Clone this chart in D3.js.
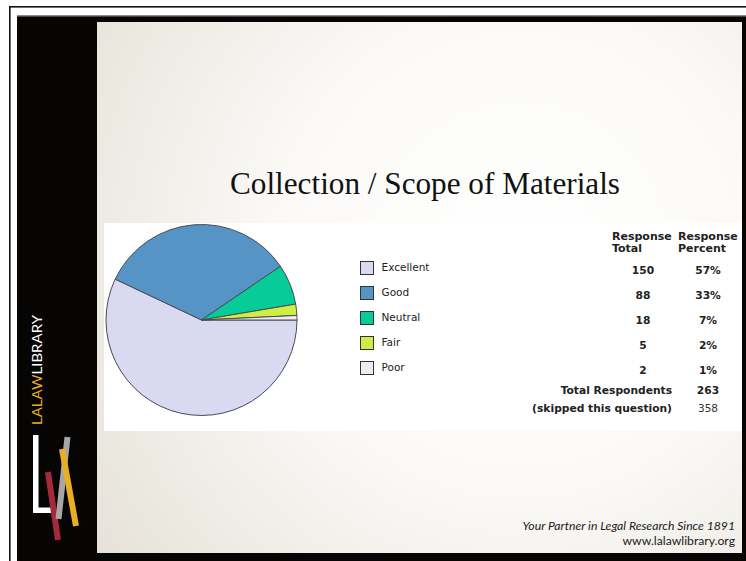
<!DOCTYPE html>
<html><head><meta charset="utf-8">
<script src="https://cdn.jsdelivr.net/npm/d3@7/dist/d3.min.js"></script>
<style>html,body{margin:0;padding:0;background:#fff;overflow:hidden}</style>
</head><body>
<svg id="c" width="746" height="561"></svg>
<script>
const categories = ["Excellent", "Good", "Neutral", "Fair", "Poor"];
const responseTotals = [150, 88, 18, 5, 2];
const responsePercents = ["57%", "33%", "7%", "2%", "1%"];
const sliceColors = ["#d9d9f1", "#5794c6", "#05cc98", "#cfee45", "#ececf2"];
const totalRespondents = 263;
const skipped = 358;
const titleText = "Collection / Scope of Materials";

const svg = d3.select("#c");
const defs = svg.append("defs");
const rg = defs.append("radialGradient").attr("id","bg")
  .attr("gradientUnits","userSpaceOnUse").attr("cx",520).attr("cy",250).attr("r",520);
rg.append("stop").attr("offset","0").attr("stop-color","#ffffff");
rg.append("stop").attr("offset","0.45").attr("stop-color","#fbfaf8");
rg.append("stop").attr("offset","1").attr("stop-color","#e6e2d8");

// frame
svg.append("rect").attr("x",9).attr("y",6).attr("width",737).attr("height",1.6).attr("fill","#111");
svg.append("rect").attr("x",9).attr("y",6).attr("width",1.6).attr("height",555).attr("fill","#111");
svg.append("rect").attr("x",17).attr("y",15).attr("width",729).attr("height",546).attr("fill","#070404");
svg.append("rect").attr("x",17).attr("y",15).attr("width",729).attr("height",1.5).attr("fill","#8a8a8a");
svg.append("rect").attr("x",97).attr("y",22).attr("width",645).attr("height",531).attr("fill","url(#bg)");

// logo
const logo = svg.append("g");
const lt = logo.append("text").attr("transform","translate(41.5,425) rotate(-90)")
  .attr("font-family","Lato, 'Open Sans', sans-serif").attr("font-size",13.5).attr("textLength",110).attr("lengthAdjust","spacingAndGlyphs");
lt.append("tspan").attr("fill","#e7ae22").text("LALAW");
lt.append("tspan").attr("fill","#ffffff").text("LIBRARY");
logo.append("rect").attr("x",33).attr("y",435).attr("width",5.5).attr("height",78).attr("fill","#fff");
logo.append("rect").attr("x",33).attr("y",507.5).attr("width",20).attr("height",5.5).attr("fill","#fff");
const bar = (x1,y1,x2,y2,c)=>logo.append("line").attr("x1",x1).attr("y1",y1).attr("x2",x2).attr("y2",y2)
  .attr("stroke",c).attr("stroke-width",6);
bar(48,472,58,540,"#a3293b");
bar(67.5,437,58.5,519,"#a6a6a6");
bar(62,449,76,526,"#e8b020");

// title
svg.append("text").attr("x",425).attr("y",194).attr("text-anchor","middle")
  .attr("font-family","'Liberation Serif', serif").attr("font-size",30.5).attr("fill","#111")
  .attr("textLength",390).attr("lengthAdjust","spacingAndGlyphs").text(titleText);

// chart panel
svg.append("rect").attr("x",104).attr("y",223).attr("width",638).attr("height",208).attr("fill","#fff");

// pie
const pie = d3.pie().sort(null).startAngle(Math.PI/2).endAngle(Math.PI/2 + 2*Math.PI);
const arcs = pie(responseTotals);
const arc = d3.arc().innerRadius(0).outerRadius(95.5);
svg.append("g").attr("transform","translate(201.5,320)")
  .selectAll("path").data(arcs).join("path")
  .attr("d",arc).attr("fill",(d,i)=>sliceColors[i]).attr("stroke","#4a4a55").attr("stroke-width",1);

// legend
const yRow = d3.scalePoint().domain(categories).range([269, 369]);
const lg = svg.append("g").selectAll("g").data(categories).join("g");
lg.append("rect").attr("x",360.5).attr("y",d=>yRow(d)-7.5).attr("width",13).attr("height",13)
  .attr("fill",(d,i)=>sliceColors[i]).attr("stroke","#333").attr("stroke-width",1);
lg.append("text").attr("x",381.5).attr("y",d=>yRow(d)+1.5).attr("font-family","'DejaVu Sans', Verdana, sans-serif")
  .attr("font-size",10.5).attr("fill","#222").text(d=>d);

// table
const tf = "'DejaVu Sans', Verdana, sans-serif";
const hdr = svg.append("g").attr("font-family",tf).attr("font-size",11).attr("font-weight","bold").attr("fill","#222");
hdr.append("text").attr("x",612).attr("y",240).text("Response");
hdr.append("text").attr("x",612).attr("y",252).text("Total");
hdr.append("text").attr("x",678).attr("y",240).text("Response");
hdr.append("text").attr("x",678).attr("y",252).text("Percent");
const tb = svg.append("g").attr("font-family",tf).attr("font-size",10.7).attr("font-weight","bold").attr("fill","#222");
tb.selectAll("text.t").data(responseTotals).join("text").attr("class","t")
  .attr("x",643).attr("y",(d,i)=>yRow(categories[i])+4.5).attr("text-anchor","middle").text(d=>d);
tb.selectAll("text.p").data(responsePercents).join("text").attr("class","p")
  .attr("x",708).attr("y",(d,i)=>yRow(categories[i])+4.5).attr("text-anchor","middle").text(d=>d);
tb.append("text").attr("x",672).attr("y",394).attr("text-anchor","end").text("Total Respondents");
tb.append("text").attr("x",708).attr("y",394).attr("text-anchor","middle").text(totalRespondents);
tb.append("text").attr("x",672).attr("y",412).attr("text-anchor","end").text("(skipped this question)");
svg.append("text").attr("x",708).attr("y",412).attr("text-anchor","middle").attr("font-family",tf)
  .attr("font-size",10.5).attr("fill","#333").text(skipped);

// footer
svg.append("text").attr("x",735).attr("y",530).attr("text-anchor","end").attr("font-family","Lato, sans-serif")
  .attr("font-style","italic").attr("font-size",12.2).attr("fill","#1a1a1a").text("Your Partner in Legal Research Since 1891");
svg.append("text").attr("x",735).attr("y",545).attr("text-anchor","end").attr("font-family","Lato, sans-serif")
  .attr("font-size",12.2).attr("fill","#1a1a1a").text("www.lalawlibrary.org");
</script>
</body></html>
